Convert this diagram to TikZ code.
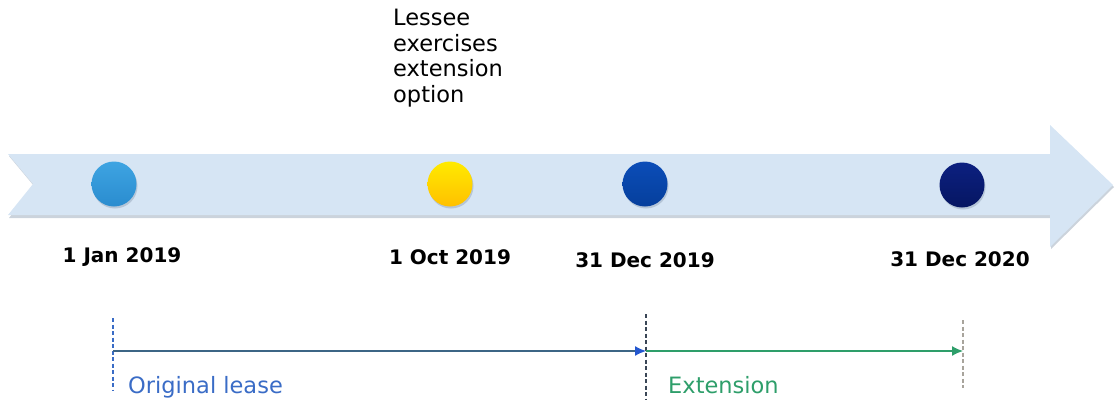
\documentclass[tikz,border=0pt]{standalone}
\usepackage{fontspec}
\setmainfont{DejaVu Sans}
\usetikzlibrary{arrows.meta}
\definecolor{band}{HTML}{D6E5F4}
\definecolor{bandshadow}{HTML}{A9B6C4}
\definecolor{lblue}{HTML}{3EA4E2}
\definecolor{lbluedark}{HTML}{2A8CCF}
\definecolor{yel}{HTML}{FFEA00}
\definecolor{yeldark}{HTML}{FFC000}
\definecolor{mblue}{HTML}{0B4DB8}
\definecolor{mbluedark}{HTML}{063F9C}
\definecolor{navy}{HTML}{0C2080}
\definecolor{navydark}{HTML}{061662}
\definecolor{origblue}{HTML}{3A6CC6}
\definecolor{origline}{HTML}{3C6585}
\definecolor{arrblue}{HTML}{2457CF}
\definecolor{extgreen}{HTML}{2E9E6A}
\definecolor{dashdark}{HTML}{3A4656}
\definecolor{dashlight}{HTML}{A8A49C}
\definecolor{dotshadow}{HTML}{9FB0C4}
\begin{document}
\begin{tikzpicture}[x=1pt,y=-1pt,
  dot/.style={circle,minimum size=45pt,inner sep=0pt},
  dotshade/.style={circle,minimum size=45pt,inner sep=0pt,fill=dotshadow,opacity=0.6},
  datelbl/.style={font=\fontsize{20}{24}\selectfont\bfseries,anchor=base,inner sep=0pt},
  spanlbl/.style={font=\fontsize{22.5}{26}\selectfont,anchor=base west,inner sep=0pt},
  marker/.style={dashed,dash pattern=on 4pt off 2.5pt,line width=1.1pt},
  spanarrow/.style={line width=1.3pt}]
\useasboundingbox (0,0) rectangle (1118,407);
% band arrow
\fill[bandshadow,opacity=0.6] (9,156) -- (1051,156) -- (1051,127) -- (1114,187) -- (1051,249) -- (1051,218) -- (9,218) -- (34,186) -- cycle;
\fill[band] (8,154) -- (1050,154) -- (1050,125) -- (1113,185) -- (1050,247) -- (1050,215) -- (8,215) -- (33,184) -- cycle;
% dot shadows
\node[dotshade] at (115,186) {};
\node[dotshade] at (451,186) {};
\node[dotshade] at (646,186) {};
\node[dotshade] at (963,187) {};
% dots
\node[dot,top color=lblue,bottom color=lbluedark] (c1) at (114,184) {};
\node[dot,top color=yel,bottom color=yeldark] (c2) at (450,184) {};
\node[dot,top color=mblue,bottom color=mbluedark] (c3) at (645,184) {};
\node[dot,top color=navy,bottom color=navydark] (c4) at (962,185) {};
% dates
\node[datelbl] (d1) at (122,262) {1 Jan 2019};
\node[datelbl] (d2) at (450,264.5) {1 Oct 2019};
\node[datelbl] (d3) at (645,267) {31 Dec 2019};
\node[datelbl] (d4) at (960,266.5) {31 Dec 2020};
% note
\node[font=\fontsize{22.5}{25.5}\selectfont,align=left,anchor=north west,inner sep=0pt] (note) at (393,9) {Lessee\\exercises\\extension\\option};
% markers
\coordinate (m1t) at (113,318);
\coordinate (m1b) at (113,390);
\coordinate (m2t) at (646,314);
\coordinate (m2b) at (646,400);
\coordinate (m3t) at (963,320);
\coordinate (m3b) at (963,388);
\coordinate (a1) at (113,351);
\coordinate (a2) at (646,351);
\coordinate (a3) at (963,351);
\draw[marker,origblue] (m1t) -- (m1b);
\draw[marker,dashdark] (m2t) -- (m2b);
\draw[marker,dashlight] (m3t) -- (m3b);
\draw[spanarrow,origline,-{Latex[length=11pt,width=10pt,fill=arrblue,color=arrblue]}] (a1) -- (a2);
\draw[spanarrow,extgreen,-{Latex[length=11pt,width=10pt]}] (a2) -- (a3);
\node[spanlbl,text=origblue] (orig) at (128,393) {Original lease};
\node[spanlbl,text=extgreen] (ext) at (668,393) {Extension};
\end{tikzpicture}
\end{document}
